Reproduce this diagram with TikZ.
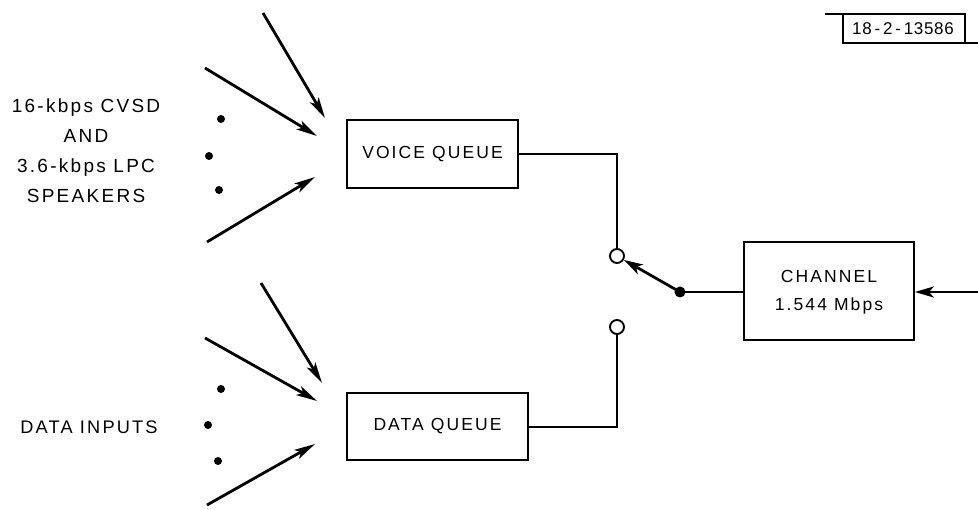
\documentclass[tikz,border=0pt]{standalone}
\usepackage{fontspec}
\setmainfont{Liberation Sans}[LetterSpace=12]
\newfontfamily\fignumfont{Liberation Sans}[LetterSpace=4]
\usetikzlibrary{arrows.meta}
\begin{document}
\begin{tikzpicture}[x=1pt,y=-1pt,
  qbox/.style={draw,line width=1.8pt,inner sep=0pt},
  lbl/.style={font=\fontsize{17.5}{30}\selectfont,align=center,inner sep=0pt},
  wire/.style={line width=2.8pt},
  tip/.style={-{Stealth[length=21pt,width=10pt,inset=5pt]}},
  inarrow/.style={line width=2.8pt,tip},
  opendot/.style={circle,draw,line width=1.9pt,fill=white,minimum size=14pt,inner sep=0pt},
  fulldot/.style={circle,fill,minimum size=11pt,inner sep=0pt},
  smalldot/.style={circle,fill,minimum size=8pt,inner sep=0pt}]
\useasboundingbox (0,0) rectangle (978,510);
% boxes
\node[qbox,minimum width=171pt,minimum height=68pt] (voice) at (432.5,154) {};
\node[lbl] at (voice.center) {VOICE QUEUE};
\node[qbox,minimum width=181pt,minimum height=67pt] (data) at (437.5,426.5) {};
\node[lbl] at (data.center) {DATA QUEUE};
\node[qbox,minimum width=170pt,minimum height=98pt] (chan) at (829,291) {};
\node[lbl] at (829,276) {CHANNEL};
\node[lbl] at (829,306) {1.544 Mbps};
% switch
\node[opendot] (c1) at (617,256) {};
\node[opendot] (c2) at (617,327) {};
\node[fulldot] (sw) at (680,292) {};
\draw[wire] (voice.east |- 0,154) -| (c1.north);
\draw[wire] (data.east |- 0,427) -| (c2.south);
\draw[wire] (sw.center) -- (chan.west |- sw);
\draw[wire,-{Stealth[length=19pt,width=11pt,inset=5pt]}] (sw.center) -- (c1);
\coordinate (rin) at (978,292);
\draw[wire,-{Stealth[length=19pt,width=11pt,inset=5pt]}] (rin) -- (chan.east |- rin);
% voice inputs
\coordinate (va) at (263,13);
\coordinate (vb) at (205,68);
\coordinate (vc) at (207,242);
\coordinate (vat) at (325,118);
\coordinate (vbt) at (317,136);
\coordinate (vct) at (315,177);
\draw[inarrow] (va) -- (vat);
\draw[inarrow] (vb) -- (vbt);
\draw[inarrow] (vc) -- (vct);
\node[smalldot] (vd1) at (221,119) {};
\node[smalldot] (vd2) at (209,156) {};
\node[smalldot] (vd3) at (219,190) {};
% data inputs
\coordinate (da) at (261,283);
\coordinate (db) at (205,338);
\coordinate (dc) at (207,505);
\coordinate (dat) at (322,383);
\coordinate (dbt) at (317,401);
\coordinate (dct) at (315,444);
\draw[inarrow] (da) -- (dat);
\draw[inarrow] (db) -- (dbt);
\draw[inarrow] (dc) -- (dct);
\node[smalldot] (dd1) at (221,389) {};
\node[smalldot] (dd2) at (208,425) {};
\node[smalldot] (dd3) at (218,461) {};
% labels
\node[lbl,font=\fontsize{19}{30}\selectfont] (vtext) at (86,151) {16-kbps CVSD\\AND\\3.6-kbps LPC\\SPEAKERS};
\node[lbl,font=\fontsize{18.2}{30}\selectfont] (dtext) at (89,427) {DATA INPUTS};
% figure number
\node[inner sep=0pt,font=\fignumfont\fontsize{17}{20}\selectfont] (fig) at (903,29) {18\,-\,2\,-\,13586};
\draw[line width=1.3pt] (825,14) -- (965,14) -- (965,43) -- (978,43);
\draw[line width=1.3pt] (843,14) -- (843,43) -- (965,43);
\end{tikzpicture}
\end{document}
